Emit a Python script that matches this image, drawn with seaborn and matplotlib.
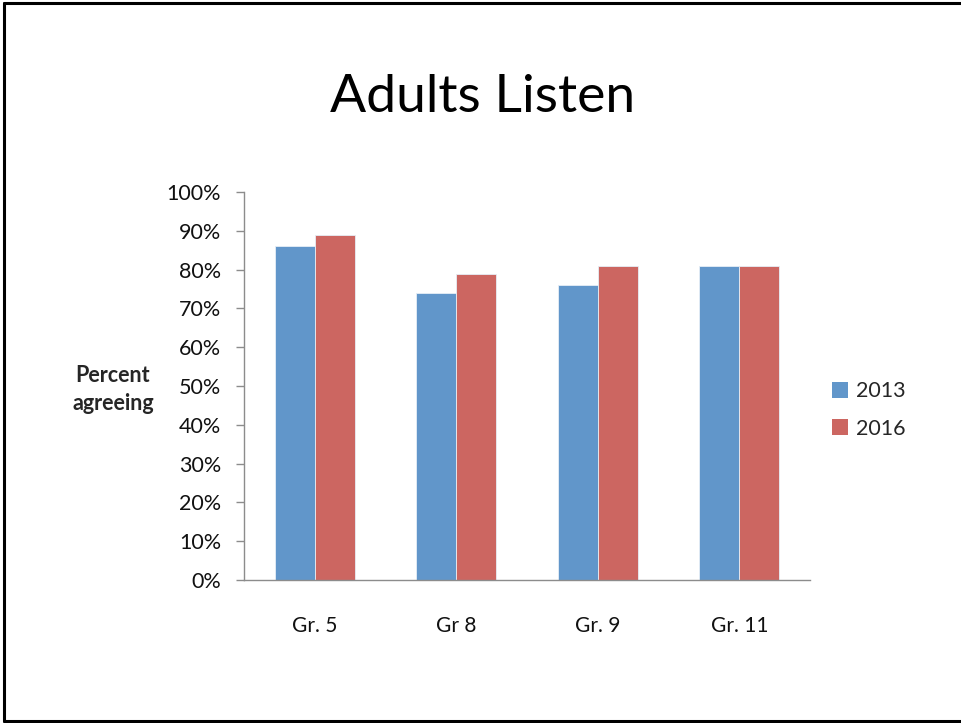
import matplotlib
matplotlib.use("Agg")
import matplotlib.pyplot as plt
from matplotlib.lines import Line2D
from matplotlib.patches import Patch
import seaborn as sns
import pandas as pd

grades = ["Gr. 5", "Gr 8", "Gr. 9", "Gr. 11"]
years = ["2013", "2016"]
pct_2013 = [86, 74, 76, 81]
pct_2016 = [89, 79, 81, 81]
yticks = list(range(0, 101, 10))

df = pd.DataFrame({
    "grade": grades * 2,
    "year": [years[0]] * len(grades) + [years[1]] * len(grades),
    "pct": pct_2013 + pct_2016,
})

sns.set_style("white")
plt.rcParams["font.family"] = ["Lato", "DejaVu Sans"]

palette = {"2013": "#6196CA", "2016": "#CC6661"}
axis_grey = "#8C8C8C"

fig = plt.figure(figsize=(9.61, 7.23), dpi=100)
ax = fig.add_axes([0.2539, 0.1978, 0.589, 0.5366])

sns.barplot(data=df, x="grade", y="pct", hue="year", order=grades,
            hue_order=years, palette=palette, width=0.565, ax=ax,
            saturation=1, edgecolor="#E6EEF6", linewidth=0.6, legend=False)

ax.set_ylim(0, 100)
ax.set_xlim(-0.5, len(grades) - 0.5)
ax.set_yticks(yticks)
ax.set_yticklabels([f"{v}%" for v in yticks], fontsize=15.5, color="#111111")
ax.set_xticks(range(len(grades)))
ax.set_xticklabels(grades, fontsize=15, color="#111111")
ax.set_xticks([i - 0.5 for i in range(len(grades) + 1)], minor=True)
ax.tick_params(axis="x", which="major", length=0, pad=26)
ax.tick_params(axis="x", which="minor", length=5.5, width=1, color=axis_grey, direction="out")
ax.tick_params(axis="y", length=5.5, width=1, color=axis_grey, direction="out", pad=11, left=True)
ax.set_xlabel("")
ax.set_ylabel("")

for side in ["top", "right"]:
    ax.spines[side].set_visible(False)
for side in ["left", "bottom"]:
    ax.spines[side].set_color(axis_grey)
    ax.spines[side].set_linewidth(1)

fig.text(0.5025, 0.865, "Adults Listen", ha="center", va="center", fontsize=38.5, color="#000000")
fig.text(0.1175, 0.4615, "Percent\nagreeing", ha="center", va="center", fontsize=15.5,
         fontweight="bold", linespacing=1.4)

handles = [Patch(facecolor=palette[y], edgecolor="none") for y in years]
fig.legend(handles, years, loc="center left", bbox_to_anchor=(0.866, 0.433), frameon=False,
           fontsize=15.5, handlelength=0.75, handleheight=0.75, handletextpad=0.35,
           labelspacing=0.8, borderaxespad=0, borderpad=0)

# slide frame
for (x0, y0, x1, y1) in [(0.004, 0.996, 1.0, 0.996), (0.004, 0.003, 1.0, 0.003), (0.004, 0.003, 0.004, 0.996)]:
    fig.add_artist(Line2D([x0, x1], [y0, y1], color="black", linewidth=2.2, transform=fig.transFigure))

fig.savefig("out.png", dpi=100)
